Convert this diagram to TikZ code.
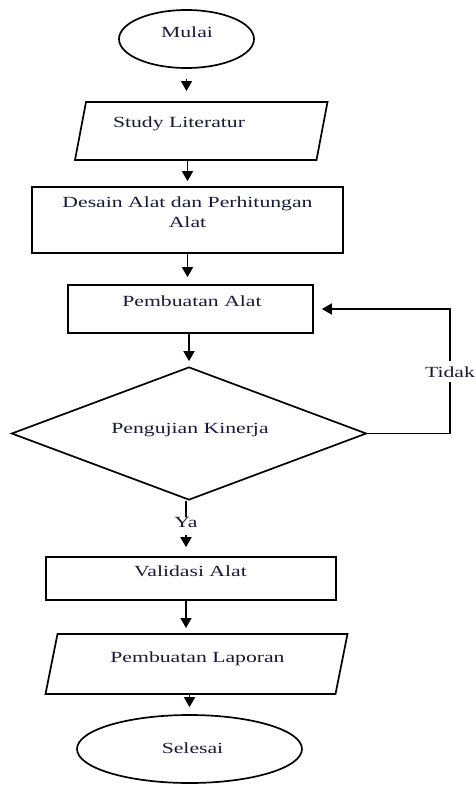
\documentclass[tikz,border=0pt]{standalone}
\usepackage{fontspec}
\setmainfont{Liberation Serif}[FakeStretch=1.4]
\usetikzlibrary{shapes.geometric,arrows.meta}
\definecolor{txt}{RGB}{25,25,55}
\begin{document}
\begin{tikzpicture}[x=1pt,y=-1pt,
  shp/.style={draw=black, line width=1.7pt, inner sep=0pt},
  ghost/.style={draw=none, inner sep=0pt, outer sep=0pt},
  ln/.style={draw=black, line width=1.7pt},
  arr/.style={ln, -{Triangle[width=11pt,length=10pt]}},
  txtn/.style={anchor=base, inner sep=0pt, text=txt, font=\fontsize{15.5pt}{20pt}\selectfont}
]
\useasboundingbox (0,0) rectangle (475,785);
% shapes
\node[shp, ellipse, minimum width=135pt, minimum height=58pt] (start) at (186.5,39) {};
\node[ghost, minimum width=241.5pt, minimum height=58pt] (study) at (201.25,131) {};
\draw[ln] ([xshift=5.5pt]study.north west) -- ([xshift=5.5pt]study.north east) -- ([xshift=-5.5pt]study.south east) -- ([xshift=-5.5pt]study.south west) -- cycle;
\node[shp, rectangle, minimum width=311pt, minimum height=66pt] (desain) at (187.5,220) {};
\node[shp, rectangle, minimum width=245pt, minimum height=48pt] (pemb) at (190.5,309) {};
\node[shp, diamond, minimum width=355pt, minimum height=133pt] (dec) at (189,433.5) {};
\node[shp, rectangle, minimum width=290pt, minimum height=43pt] (val) at (191,578.5) {};
\node[ghost, minimum width=290pt, minimum height=60pt] (lap) at (196.5,664) {};
\draw[ln] ([xshift=6pt]lap.north west) -- ([xshift=6pt]lap.north east) -- ([xshift=-6pt]lap.south east) -- ([xshift=-6pt]lap.south west) -- cycle;
\node[shp, ellipse, minimum width=225pt, minimum height=68pt] (stop) at (189.5,749) {};
% texts
\node[txtn] (tstart) at (187,37) {Mulai};
\node[txtn] (tstudy) at (179,127) {Study Literatur};
\node[txtn, anchor=north, align=center] (tdesain) at (187.5,196.5) {Desain Alat dan Perhitungan\\Alat};
\node[txtn] (tpemb) at (192,306) {Pembuatan Alat};
\node[txtn] (tdec) at (190,433) {Pengujian Kinerja};
\node[txtn] (tval) at (190.5,576) {Validasi Alat};
\node[txtn] (tlap) at (197.5,662) {Pembuatan Laporan};
\node[txtn] (tstop) at (192.5,753) {Selesai};
\node[txtn, inner ysep=5pt] (tidak) at (450,377) {Tidak};
\node[txtn] (ya) at (186,527) {Ya};
% connectors
\draw[arr, shorten <=10pt, shorten >=11pt] (start.south) -- (start.south |- study.north);
\draw[arr, shorten >=5pt] (study.south -| desain.north) -- (desain.north);
\draw[arr, shorten >=7pt] (desain.south) -- (desain.south |- pemb.north);
\draw[arr, shorten >=5pt] (pemb.south -| dec.north) -- (dec.north);
\draw[ln] (dec.south -| ya.north) -- (ya.north);
\draw[arr, shorten <=8pt, shorten >=9pt] (ya.south) -- (ya.south |- val.north);
\draw[arr, shorten >=6pt] (val.south -| ya.south) -- (ya.south |- lap.north);
\draw[arr, shorten >=7pt] (lap.south -| stop.north) -- (stop.north);
\draw[ln] (dec.east) -| (tidak.south);
\draw[arr, shorten >=8pt] (tidak.north) |- (pemb.east);
\end{tikzpicture}
\end{document}
